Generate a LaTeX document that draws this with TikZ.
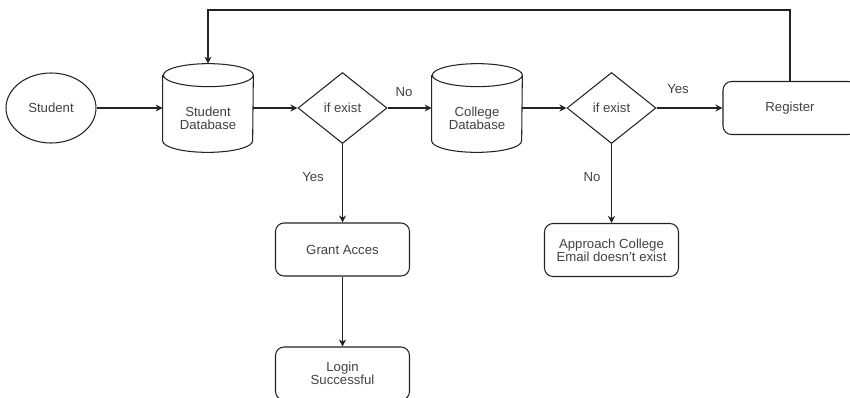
\documentclass[tikz,border=0pt]{standalone}
\usepackage{fontspec}
\setmainfont{Liberation Sans}
\usetikzlibrary{calc, arrows.meta, shapes.geometric}
\definecolor{linegray}{RGB}{35,35,35}
\definecolor{textgray}{RGB}{65,65,65}

\begin{document}
\begin{tikzpicture}[x=0.2mm, y=0.2mm, font=\fontsize{7.5}{7.4}\selectfont, text=textgray]
		% Styles for the flow chart
		\tikzset{flow/.style={draw=linegray, line width=0.6pt, -{Stealth[length=4pt, width=4pt]}}}
		\tikzset{startnode/.style={ellipse, draw=linegray, line width=0.6pt, minimum width=1.8cm, minimum height=1.4cm, inner sep=0pt}}
		\tikzset{dbnode/.style={minimum width=1.8cm, minimum height=1.76cm, inner sep=0pt}}
		\tikzset{dbtext/.style={yshift=-0.2cm, align=center}}
		\tikzset{decide/.style={diamond, draw=linegray, line width=0.6pt, minimum width=1.78cm, minimum height=1.42cm, inner sep=0pt}}
		\tikzset{procbox/.style={draw=linegray, line width=0.6pt, rounded corners=0.17cm, minimum width=2.68cm, minimum height=1.06cm, align=center}}
		\tikzset{lbl/.style={inner sep=0pt}}
		
		\useasboundingbox (0,0) rectangle (850,-397);
		
		% Top row
		\node[startnode] (student) at (51,-108) {Student};
		\node[dbnode, label={[dbtext]center:{Student\\Database}}] (sdb) at (208,-108) {};
		\node[decide] (ifone) at (342.5,-108) {if exist};
		\node[dbnode, label={[dbtext]center:{College\\Database}}] (cdb) at (477,-108) {};
		\node[decide] (iftwo) at (611.5,-108) {if exist};
		\node[procbox] (reg) at (790,-108) {Register};
		
		% Lower boxes
		\node[procbox] (grant) at (342.5,-249.5) {Grant Acces};
		\node[procbox] (login) at (342.5,-373.5) {Login\\Successful};
		\node[procbox] (approach) at (611.5,-250) {Approach College\\Email doesn't exist};
		
		% Cylinders
		\foreach \db in {sdb, cdb}{
			\draw[draw=linegray, line width=0.6pt] ($(\db.north west)+(0pt,-0.23cm)$) -- ($(\db.south west)+(0pt,0.23cm)$)
				arc[start angle=180, end angle=360, x radius=0.9cm, y radius=0.23cm]
				-- ($(\db.north east)+(0pt,-0.23cm)$)
				arc[start angle=0, end angle=180, x radius=0.9cm, y radius=0.23cm]
				arc[start angle=180, end angle=360, x radius=0.9cm, y radius=0.23cm];
		}
		
		% Branch labels
		\node[lbl] (noone) at (404,-92) {No};
		\node[lbl] (yesone) at (313,-177) {Yes};
		\node[lbl] (yestwo) at (678,-89) {Yes};
		\node[lbl] (notwo) at (592,-177) {No};
		
		% Connectors
		\draw[flow] (student) -- (sdb);
		\draw[flow] (sdb) -- (ifone);
		\draw[flow] (ifone) -- (cdb);
		\draw[flow] (cdb) -- (iftwo);
		\draw[flow] (iftwo) -- (reg);
		\draw[flow] (ifone) -- (grant);
		\draw[flow] (grant) -- (login);
		\draw[flow] (iftwo) -- (approach);
		\coordinate (fbtop) at (500,-10);
		\draw[flow] (reg.north) |- (fbtop) -| (sdb.north);
	\end{tikzpicture}
\end{document}
